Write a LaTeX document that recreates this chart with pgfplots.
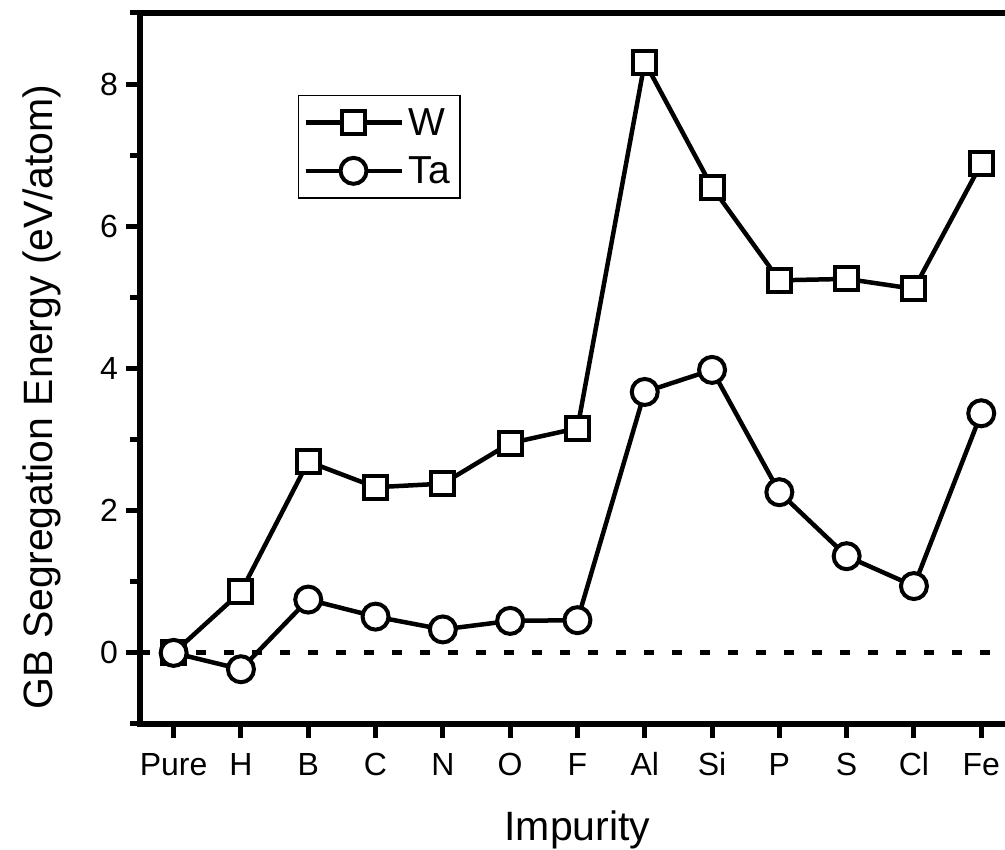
\documentclass[border=0pt]{standalone}
\usepackage{fontspec}
\setmainfont{Liberation Sans}
\usepackage{pgfplots}
\pgfplotsset{compat=1.18}
\usetikzlibrary{calc}
\begin{document}
\begin{tikzpicture}
\begin{axis}[
  name=ax, at={(0,0)}, anchor=south west,
  scale only axis,
  width=874.9pt, height=711pt,
  xmin=-0.5, xmax=12.5, ymin=-1, ymax=9,
  axis line style={line width=5.5pt},
  xtick={0,...,12},
  xticklabels={Pure,H,B,C,N,O,F,Al,Si,P,S,Cl,Fe},
  ytick={0,2,4,6,8},
  minor ytick={-1,1,3,5,7,9},
  tick align=outside,
  xtick pos=left, ytick pos=left,
  major tick length=14pt, minor tick length=10pt,
  every tick/.style={line width=5pt, black},
  /pgf/number format/assume math mode=true,
  tick label style={font=\fontsize{32}{38}\selectfont},
  yticklabel style={inner sep=0pt, xshift=-8pt},
  xticklabel style={inner sep=0pt, anchor=base, yshift=-38pt},
  xlabel={Impurity},
  ylabel={GB Segregation Energy (eV/atom)},
  label style={font=\fontsize{41}{48}\selectfont},
  xlabel style={at={(axis cs:6,-1)}, anchor=base, yshift=-117pt},
  ylabel style={at={(axis cs:-0.5,3.6)}, anchor=center, yshift=98pt},
  legend style={at={(axis cs:1.843,7.85)}, anchor=north west, draw=black, line width=1.2pt,
    font=\fontsize{39}{44}\selectfont, inner xsep=5pt, inner ysep=3pt,
    nodes={inner ysep=10pt, inner xsep=5pt}},
  legend cell align=left,
  legend image code/.code={\draw[#1, mark repeat=2, mark phase=2] plot coordinates {(0pt,0pt) (48pt,0pt) (96pt,0pt)};},
]
\addplot[black, dash pattern=on 10pt off 18pt, line width=5pt, forget plot] coordinates {(-0.5,0) (12.5,0)};
\addplot[black, line width=4.5pt, mark=square*, mark size=11.5pt,
  mark options={fill=white, line width=4pt, solid}] coordinates {
  (0,0) (1,0.86) (2,2.69) (3,2.33) (4,2.38) (5,2.95) (6,3.16)
  (7,8.31) (8,6.55) (9,5.24) (10,5.26) (11,5.12) (12,6.88)};
\addlegendentry{W}
\addplot[black, line width=4.5pt, mark=*, mark size=13pt,
  mark options={fill=white, line width=4pt, solid}] coordinates {
  (0,0) (1,-0.23) (2,0.75) (3,0.51) (4,0.33) (5,0.45) (6,0.46)
  (7,3.67) (8,3.98) (9,2.26) (10,1.36) (11,0.94) (12,3.37)};
\addlegendentry{Ta}
\end{axis}
\pgfresetboundingbox
\path[use as bounding box] ($(ax.south west)+(-140pt,-126pt)$) rectangle ($(ax.south west)+(865pt,724pt)$);
\end{tikzpicture}
\end{document}
